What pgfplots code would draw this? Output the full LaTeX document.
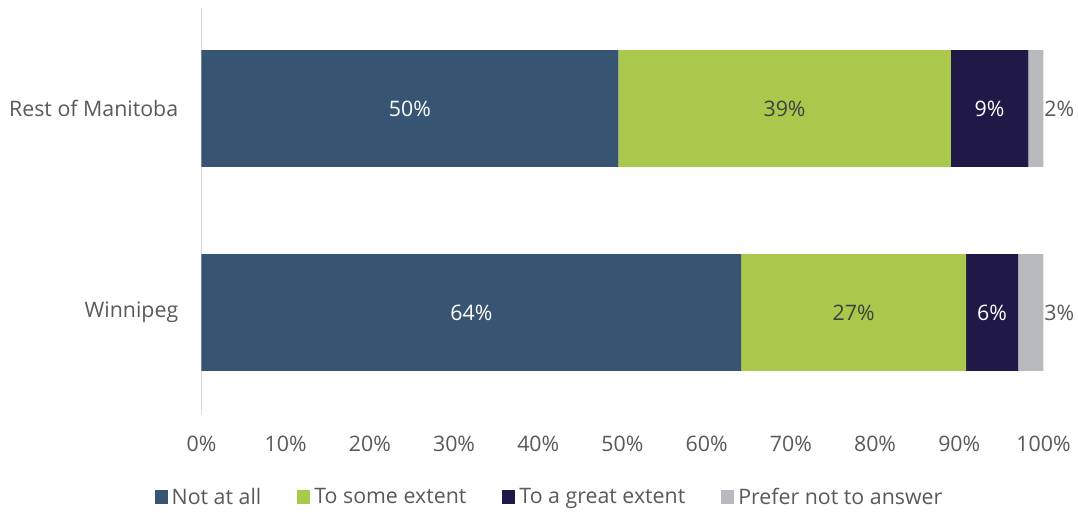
\documentclass[border=0pt]{standalone}
\usepackage{pgfplots}
\pgfplotsset{compat=1.18}
\usepackage{pgfplotstable}
\usepackage{fontspec}
\setmainfont{Open Sans}
\definecolor{cA}{HTML}{375572}
\definecolor{cB}{HTML}{A9C84C}
\definecolor{cC}{HTML}{201846}
\definecolor{cD}{HTML}{B8B9BD}
\definecolor{txt}{HTML}{595959}
\definecolor{axl}{HTML}{D9D9D9}

\pgfplotstableread{
y   a     la   b     lb   c    lc  d    ld
0   64.1  64   26.7  27   6.2  6   3.0  3
1   49.5  50   39.5  39   9.2  9   1.8  2
}\data

\begin{document}
\begin{tikzpicture}[font=\fontsize{16}{19}\selectfont]
\useasboundingbox (-151.1pt,-73.5pt) rectangle (657.4pt,310.5pt);
\begin{axis}[
  at={(0pt,0pt)}, anchor=south west,
  scale only axis,
  width=631.5pt, height=304.5pt,
  xbar stacked,
  bar width=87.4pt,
  xmin=0, xmax=100,
  ymin=-0.4975, ymax=1.4926,
  ytick={0,1},
  yticklabels={Winnipeg, Rest of Manitoba},
  xtick={0,10,...,100},
  xticklabel={\pgfmathprintnumber{\tick}\%},
  major tick length=0pt,
  axis y line*=left,
  axis x line*=bottom,
  axis line style={draw=axl, line width=1.2pt, -},
  x axis line style={draw=none},
  tick label style={text=txt, inner sep=0pt, font=\fontsize{16}{19}\selectfont},
  yticklabel style={anchor=east, xshift=-17.25pt},
  xticklabel style={anchor=center, yshift=-22.5pt},
  /pgf/number format/assume math mode=true,
  legend columns=4,
  legend style={at={(rel axis cs:0.4145,-0.2044)}, anchor=center, draw=none, fill=none,
    font=\fontsize{16}{19}\selectfont, text=txt,
    /tikz/every even column/.append style={column sep=24pt},
    nodes={inner sep=3pt}},
  legend image code/.code={\fill[#1] (0pt,-4.9pt) rectangle (9.8pt,4.9pt);},
  point meta=explicit symbolic,
]
\addplot[fill=cA, draw=none,
  nodes near coords={\pgfplotspointmeta\%},
  every node near coord/.append style={anchor=center, text=white}]
  table[x=a, y=y, meta=la] {\data};
\addplot[fill=cB, draw=none,
  nodes near coords={\pgfplotspointmeta\%},
  every node near coord/.append style={anchor=center, text=black!75}]
  table[x=b, y=y, meta=lb] {\data};
\addplot[fill=cC, draw=none,
  nodes near coords={\pgfplotspointmeta\%},
  every node near coord/.append style={anchor=center, text=white}]
  table[x=c, y=y, meta=lc] {\data};
\addplot[fill=cD, draw=none,
  visualization depends on={rawx \as \seg},
  nodes near coords={\pgfplotspointmeta\%},
  every node near coord/.append style={anchor=west, text=txt, inner sep=0pt, xshift={\seg*3.1575pt+0.5pt}}]
  table[x=d, y=y, meta=ld] {\data};
\legend{Not at all, To some extent, To a great extent, Prefer not to answer}
\end{axis}
\end{tikzpicture}
\end{document}
